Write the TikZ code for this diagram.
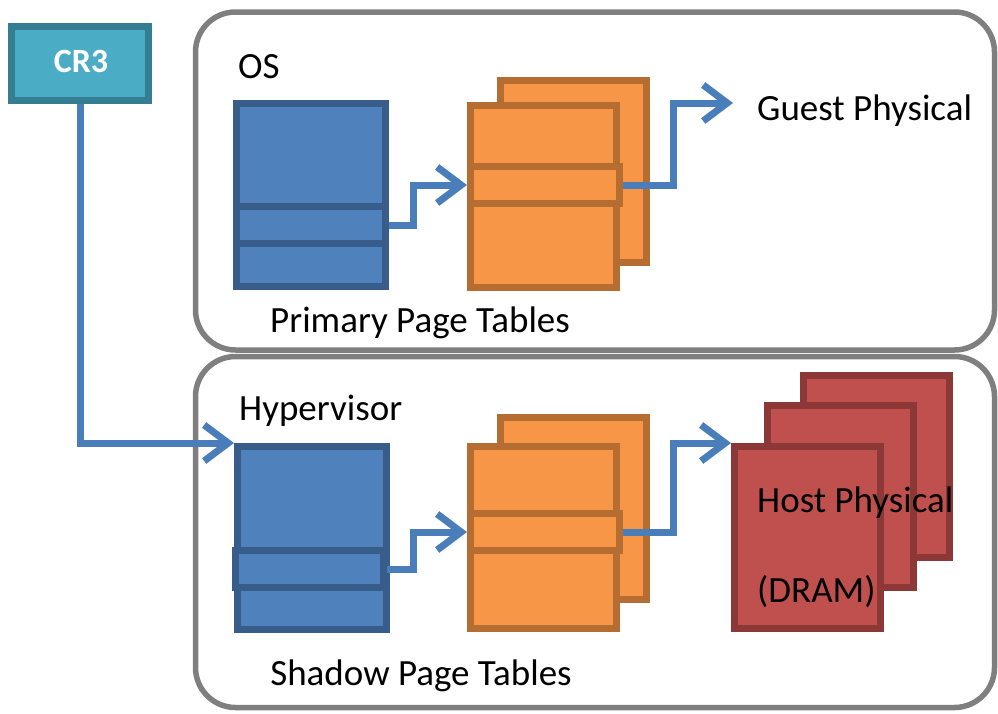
\documentclass[tikz,border=0pt]{standalone}
\usepackage{fontspec}
\setmainfont{Carlito}
\usepackage{xcolor}
\usetikzlibrary{positioning,arrows.meta,calc}

\definecolor{bluefill}{HTML}{4F81BD}
\definecolor{blueline}{HTML}{385D8A}
\definecolor{orangefill}{HTML}{F79646}
\definecolor{orangeline}{HTML}{B66D31}
\definecolor{redfill}{HTML}{C0504D}
\definecolor{redline}{HTML}{8C3836}
\definecolor{tealfill}{HTML}{4BACC6}
\definecolor{tealline}{HTML}{357D91}
\definecolor{panelgray}{HTML}{7F7F7F}
\definecolor{arrowblue}{HTML}{4A7EBB}

\begin{document}
\begin{tikzpicture}[
  x=1pt, y=-1pt,
  panel/.style={draw=panelgray, line width=5.5pt, rounded corners=40pt, minimum width=799pt, inner sep=0pt},
  tab/.style={line width=7pt, inner sep=0pt, minimum width=146pt, minimum height=182pt},
  band/.style={line width=7pt, inner sep=0pt, minimum width=149pt, minimum height=37pt},
  bluetab/.style={tab, draw=blueline, fill=bluefill},
  orangetab/.style={tab, draw=orangeline, fill=orangefill},
  redtab/.style={tab, draw=redline, fill=redfill},
  lbl/.style={inner sep=0pt, font=\fontsize{37}{40}\selectfont},
  arr/.style={-{Straight Barb[length=24pt,width=36pt]}, line width=7pt, draw=arrowblue}
]
  \useasboundingbox (0,0) rectangle (998,713);

  % the two layers
  \node[panel, minimum height=338pt] (osbox) at (595,181) {};
  \node[panel, minimum height=351pt] (hvbox) at (595,532) {};
  \node[lbl, anchor=base west] (os) at (238,78) {OS};
  \node[lbl, anchor=base west] (hv) at (239,420) {Hypervisor};

  % CR3 register
  \node[draw=tealline, fill=tealfill, line width=7pt, minimum width=137pt, minimum height=74pt, inner sep=0pt] (cr) at (80,63.5) {};
  \node[lbl, text=white, font=\fontsize{34}{40}\selectfont\bfseries, anchor=base] (crt) at (81,72) {CR3};

  % primary page tables
  \node[bluetab, minimum width=149pt, minimum height=183pt] (p1) at (311,195) {};
  \node[band, draw=blueline, fill=bluefill] (p1b) at (311,225) {};
  \node[orangetab] (p2r) at (573.5,171) {};
  \node[orangetab] (p2) at (543.5,196) {};
  \node[band, draw=orangeline, fill=orangefill] (p2b) at (545,185) {};
  \node[lbl, anchor=base] (pt) at (420,332) {Primary Page Tables};
  \node[lbl, anchor=base west] (gp) at (757,120) {Guest Physical};
  \coordinate (gpin) at (733,103);

  % shadow page tables
  \node[bluetab, minimum width=149pt, minimum height=183pt] (s1) at (312,538) {};
  \node[band, draw=blueline, fill=bluefill, minimum width=148pt] (s1b) at (309.5,569) {};
  \node[orangetab] (s2r) at (573.5,508.5) {};
  \node[orangetab] (s2) at (543.5,537.5) {};
  \node[band, draw=orangeline, fill=orangefill] (s2b) at (545,532) {};
  \node[lbl, anchor=base] (st) at (421,685) {Shadow Page Tables};

  % host memory
  \node[redtab] (m3) at (876,466) {};
  \node[redtab] (m2) at (840,496.5) {};
  \node[redtab] (m1) at (807.5,537.5) {};
  \node[lbl, anchor=base west] (hp) at (757,512) {Host Physical};
  \node[lbl, anchor=base west] (dr) at (757,602) {(DRAM)};

  \draw[arr] (p1b.east) -- ++(24,0) |- (p2b.west);
  \draw[arr] (p2b.east) -- ++(50,0) |- (gpin);
  \draw[arr] (s1b.east) -- ++(26,0) |- (s2b.west);
  \draw[arr] (s2b.east) -- ++(50,0) |- (m1.north west);
  \draw[arr] (cr.south) |- (s1.north west);
\end{tikzpicture}
\end{document}
